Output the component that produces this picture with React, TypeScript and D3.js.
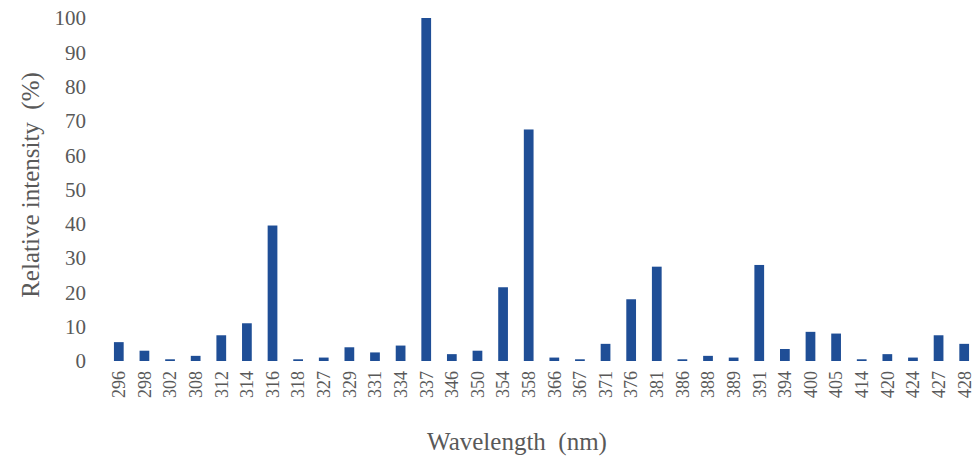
import React from "react";
import * as d3 from "d3";

const categories = ["296","298","302","308","312","314","316","318","327","329","331","334","337","346","350","354","358","366","367","371","376","381","386","388","389","391","394","400","405","414","420","424","427","428"];
const values = [5.5,3,0.5,1.5,7.5,11,39.5,0.5,1,4,2.5,4.5,100,2,3,21.5,67.5,1,0.5,5,18,27.5,0.5,1.5,1,28,3.5,8.5,8,0.5,2,1,7.5,5];
const yTicks = [0,10,20,30,40,50,60,70,80,90,100];

export default function App() {
  const W = 974, H = 464;
  const x = d3.scaleBand<string>().domain(categories).range([106, 977]).paddingInner(0.62).paddingOuter(0.31);
  const y = d3.scaleLinear().domain([0, 100]).range([361, 18]);
  const font = "'Liberation Serif', 'DejaVu Serif', serif";
  return (
    <svg width={W} height={H} style={{ position: "absolute", left: 0, top: 0 }}>
      <rect width={W} height={H} fill="#fff" />
      {yTicks.map(t => (
        <text key={t} x={86} y={y(t)} dy="0.35em" textAnchor="end" fontFamily={font} fontSize={21} fill="#595959">{t}</text>
      ))}
      {categories.map((c, i) => (
        <rect key={c} x={x(c)} y={y(values[i])} width={x.bandwidth()} height={y(0) - y(values[i])} fill="#1F4E96" />
      ))}
      {categories.map(c => {
        const cx = (x(c) as number) + x.bandwidth() / 2;
        return (
          <text key={c} transform={`translate(${cx},371) rotate(-90)`} dy="0.35em" textAnchor="end" fontFamily={font} fontSize={18} fill="#595959">{c}</text>
        );
      })}
      <text transform={`translate(30,185) rotate(-90)`} dy="0.35em" textAnchor="middle" fontFamily={font} fontSize={25} fill="#595959" style={{ whiteSpace: "pre" }}>{"Relative intensity  (%)"}</text>
      <text x={517} y={450} textAnchor="middle" fontFamily={font} fontSize={25} fill="#595959" style={{ whiteSpace: "pre" }}>{"Wavelength  (nm)"}</text>
    </svg>
  );
}
